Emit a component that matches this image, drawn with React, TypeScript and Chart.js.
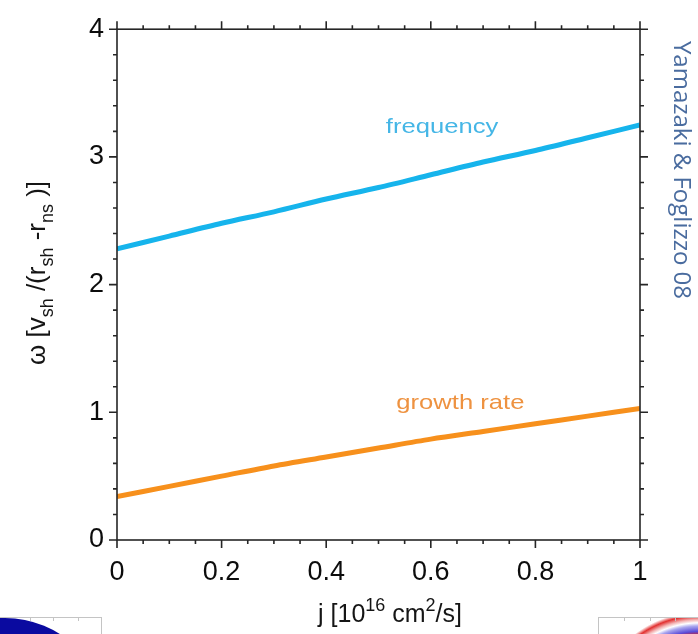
import React, { useEffect, useRef } from "react";
import { Chart, registerables } from "chart.js";

Chart.register(...registerables);

// Specific angular momentum j [10^16 cm^2/s]
const jValues = [0, 0.1, 0.2, 0.3, 0.4, 0.5, 0.6, 0.7, 0.8, 0.9, 1];
// Oscillation frequency of the mode
const frequency = [2.28, 2.38, 2.48, 2.57, 2.67, 2.76, 2.86, 2.96, 3.05, 3.15, 3.25];
// Growth rate of the mode
const growthRate = [0.34, 0.42, 0.5, 0.58, 0.65, 0.72, 0.79, 0.85, 0.91, 0.97, 1.03];

const xTickLabels = ["0", "0.2", "0.4", "0.6", "0.8", "1"];
const yTickLabels = ["0", "1", "2", "3", "4"];
const seriesNames = ["frequency", "growth rate"];
const seriesColors = ["#16b4ec", "#f7901c"];
const labelColors = ["#45b6e6", "#ee9240"];
// Where each curve's name sits, in data units (left edge, baseline)
const labelAnchors = [
  [0.514, 3.19],
  [0.534, 1.025],
];
const credit = "Yamazaki & Foglizzo 08";

const FONT = "'Liberation Sans', Arial, Helvetica, sans-serif";

type Part = { t: string; size: number; dy?: number };

function drawParts(ctx: CanvasRenderingContext2D, parts: Part[], cx: number, cy: number, angle: number) {
  ctx.save();
  ctx.translate(cx, cy);
  ctx.rotate(angle);
  let total = 0;
  for (const p of parts) {
    ctx.font = `${p.size}px ${FONT}`;
    total += ctx.measureText(p.t).width;
  }
  let x = -total / 2;
  ctx.textBaseline = "alphabetic";
  ctx.textAlign = "left";
  for (const p of parts) {
    ctx.font = `${p.size}px ${FONT}`;
    ctx.fillText(p.t, x, p.dy || 0);
    x += ctx.measureText(p.t).width;
  }
  ctx.restore();
}

const framePlugin = {
  id: "frameAndNotes",
  beforeDraw(chart: any) {
    const ctx: CanvasRenderingContext2D = chart.ctx;
    ctx.save();
    ctx.fillStyle = "#ffffff";
    ctx.fillRect(0, 0, chart.width, chart.height);

    // small emblem, lower left
    ctx.save();
    ctx.beginPath();
    ctx.rect(0, 617, 102, 20);
    ctx.clip();
    ctx.fillStyle = "#0a0aa0";
    ctx.beginPath();
    ctx.arc(5, 720, 102, 0, Math.PI * 2);
    ctx.fill();
    ctx.restore();
    ctx.strokeStyle = "#c4c4c4";
    ctx.lineWidth = 1;
    ctx.strokeRect(-1, 617.5, 102.5, 20);
    ctx.beginPath();
    for (const gx of [30, 53, 78]) {
      ctx.moveTo(gx + 0.5, 618);
      ctx.lineTo(gx + 0.5, 621);
    }
    ctx.stroke();

    // small emblem, lower right
    ctx.save();
    ctx.beginPath();
    ctx.rect(598, 617, 100, 20);
    ctx.clip();
    const g = ctx.createRadialGradient(700, 720, 0, 700, 720, 108);
    g.addColorStop(0, "#d81818");
    g.addColorStop(0.78, "#d81818");
    g.addColorStop(0.82, "#5a4ad8");
    g.addColorStop(0.87, "#a9a6ee");
    g.addColorStop(0.9, "#ffffff");
    g.addColorStop(0.93, "#f3b0b0");
    g.addColorStop(0.965, "#e23030");
    g.addColorStop(1, "rgba(255,255,255,1)");
    ctx.fillStyle = g;
    ctx.fillRect(598, 617, 100, 20);
    ctx.restore();
    ctx.strokeStyle = "#c4c4c4";
    ctx.strokeRect(598.5, 617.5, 102, 20);
    ctx.beginPath();
    for (const gx of [624, 650, 675]) {
      ctx.moveTo(gx + 0.5, 618);
      ctx.lineTo(gx + 0.5, 621);
    }
    ctx.stroke();
    ctx.restore();
  },
  afterDraw(chart: any) {
    const ctx: CanvasRenderingContext2D = chart.ctx;
    const a = chart.chartArea;
    const xs = chart.scales.x;
    const ys = chart.scales.y;
    ctx.save();
    ctx.strokeStyle = "#262626";
    ctx.lineWidth = 1.6;
    ctx.strokeRect(a.left, a.top, a.right - a.left, a.bottom - a.top);
    ctx.beginPath();
    for (let i = 0; i <= 20; i++) {
      const px = xs.getPixelForValue(i * 0.05);
      const len = i % 4 === 0 ? 8 : 4;
      ctx.moveTo(px, a.bottom);
      ctx.lineTo(px, a.bottom + len);
      ctx.moveTo(px, a.top);
      ctx.lineTo(px, a.top - len);
    }
    for (let i = 0; i <= 20; i++) {
      const py = ys.getPixelForValue(i * 0.2);
      const len = i % 5 === 0 ? 8 : 4;
      ctx.moveTo(a.left, py);
      ctx.lineTo(a.left - len, py);
      ctx.moveTo(a.right, py);
      ctx.lineTo(a.right + len, py);
    }
    ctx.stroke();

    // curve names
    ctx.font = `21px ${FONT}`;
    ctx.textBaseline = "alphabetic";
    ctx.textAlign = "left";
    seriesNames.forEach((name, k) => {
      const px = xs.getPixelForValue(labelAnchors[k][0]);
      const py = ys.getPixelForValue(labelAnchors[k][1]);
      ctx.save();
      ctx.translate(px, py);
      ctx.scale(1.22, 1);
      ctx.fillStyle = labelColors[k];
      ctx.fillText(name, 0, 0);
      ctx.restore();
    });

    // axis titles
    ctx.fillStyle = "#151515";
    drawParts(
      ctx,
      [
        { t: "\u03c9 [v", size: 26 },
        { t: "sh", size: 18, dy: 8 },
        { t: " /(r", size: 26 },
        { t: "sh", size: 18, dy: 8 },
        { t: " -r", size: 26 },
        { t: "ns", size: 18, dy: 8 },
        { t: " )]", size: 26 },
      ],
      45,
      273,
      -Math.PI / 2
    );
    drawParts(
      ctx,
      [
        { t: "j [10", size: 25 },
        { t: "16", size: 18, dy: -11 },
        { t: " cm", size: 25 },
        { t: "2", size: 18, dy: -11 },
        { t: "/s]", size: 25 },
      ],
      390,
      622,
      0
    );

    // credit line along the right edge
    ctx.fillStyle = "#4a6c9f";
    ctx.font = `24px 'Open Sans', ${FONT}`;
    ctx.save();
    ctx.translate(674, 170);
    ctx.rotate(Math.PI / 2);
    ctx.textAlign = "center";
    ctx.textBaseline = "alphabetic";
    ctx.fillText(credit, 0, 0);
    ctx.restore();
    ctx.restore();
  },
};

export default function App() {
  const canvasRef = useRef<HTMLCanvasElement | null>(null);

  useEffect(() => {
    const canvas = canvasRef.current;
    if (!canvas) return;
    const chart = new Chart(canvas, {
      type: "line",
      data: {
        datasets: [
          {
            label: seriesNames[0],
            data: jValues.map((j, i) => ({ x: j, y: frequency[i] })),
            borderColor: seriesColors[0],
            borderWidth: 5,
            pointRadius: 0,
            tension: 0.3,
            clip: 0,
          },
          {
            label: seriesNames[1],
            data: jValues.map((j, i) => ({ x: j, y: growthRate[i] })),
            borderColor: seriesColors[1],
            borderWidth: 5,
            pointRadius: 0,
            tension: 0.3,
            clip: 0,
          },
        ],
      },
      options: {
        responsive: false,
        animation: false,
        devicePixelRatio: 1,
        layout: { padding: { top: 20, right: 58, left: 0, bottom: 0 } },
        plugins: { legend: { display: false }, tooltip: { enabled: false } },
        scales: {
          x: {
            type: "linear",
            min: 0,
            max: 1,
            grid: { display: false, drawTicks: false },
            border: { display: false },
            ticks: {
              stepSize: 0.2,
              padding: 16,
              color: "#0c0c0c",
              font: { family: FONT, size: 27 },
              maxRotation: 0,
              callback: (v: any) => xTickLabels[Math.round(Number(v) / 0.2)] ?? "",
            },
            afterFit: (s: any) => {
              s.height = 94;
            },
          },
          y: {
            type: "linear",
            min: 0,
            max: 4,
            grid: { display: false, drawTicks: false },
            border: { display: false },
            ticks: {
              stepSize: 1,
              padding: 13,
              color: "#0c0c0c",
              font: { family: FONT, size: 27 },
              callback: (v: any) => yTickLabels[Math.round(Number(v))] ?? "",
            },
            afterFit: (s: any) => {
              s.width = 117;
            },
          },
        },
      },
      plugins: [framePlugin],
    });
    return () => chart.destroy();
  }, []);

  return (
    <div style={{ position: "absolute", left: 0, top: 0, width: 698, height: 634, background: "#fff" }}>
      <canvas ref={canvasRef} width={698} height={634} style={{ display: "block" }} />
    </div>
  );
}
